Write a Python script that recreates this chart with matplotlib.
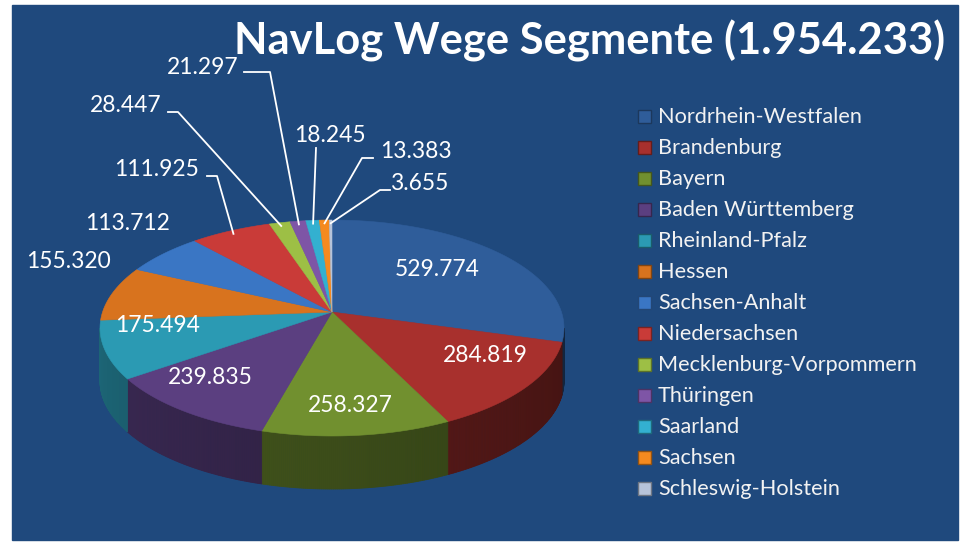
import numpy as np
import matplotlib.pyplot as plt
from matplotlib.patches import Polygon, Rectangle
from matplotlib.colors import to_rgb

# Daten
laender = ["Nordrhein-Westfalen", "Brandenburg", "Bayern", "Baden Württemberg",
           "Rheinland-Pfalz", "Hessen", "Sachsen-Anhalt", "Niedersachsen",
           "Mecklenburg-Vorpommern", "Thüringen", "Saarland", "Sachsen",
           "Schleswig-Holstein"]
werte = [529774, 284819, 258327, 239835, 175494, 155320, 113712, 111925,
         28447, 21297, 18245, 13383, 3655]
beschriftung = ["529.774", "284.819", "258.327", "239.835", "175.494", "155.320",
                "113.712", "111.925", "28.447", "21.297", "18.245", "13.383", "3.655"]
titel = "NavLog Wege Segmente (1.954.233)"

farben = ["#2F5D9A", "#A8302D", "#71902F", "#5B3F80", "#2B9AB3", "#D8731E",
          "#3A76C4", "#C93B38", "#9DBF45", "#7E55A6", "#33B0D0", "#F58A1F",
          "#B7C4DA"]

# Layout (Pixel)
W, H = 961, 543
cx, cy, a, b, tiefe = 332, 328, 232, 108, 53
apex_y = 312
label_pos = [(437, 270), (485, 355), (350, 405), (210, 377), (158, 326),
             (68, 262), (128, 223), (157, 170), (126, 105), (203, 67),
             (330, 135), (416, 152), (420, 183)]
# Fuehrungslinien: Index -> (Start, Knick)
leader = {7: ((207, 176), (217, 176)), 8: ((168, 112), (178, 112)),
          9: ((244, 72), (270, 72)), 10: ((316, 148), (316, 148)),
          11: ((373, 158), (362, 158)), 12: ((390, 190), (380, 190))}

plt.rcParams['font.family'] = ['Lato', 'DejaVu Sans']

fig = plt.figure(figsize=(W / 100, H / 100), dpi=100)
fig.patch.set_facecolor('white')
ax = fig.add_axes([0, 0, 1, 1])
ax.set_xlim(0, W)
ax.set_ylim(H, 0)
ax.axis('off')
ax.add_patch(Rectangle((12, 5), 946, 535, color='#1F497D', zorder=0))
renderer = fig.canvas.get_renderer()


def rim(theta, r=1.0):
    t = np.radians(theta)
    return cx + r * a * np.sin(t), cy - r * b * np.cos(t)


def fit(txt, breite):
    w = txt.get_window_extent(renderer).width
    txt.set_fontsize(txt.get_fontsize() * breite / w)
    return txt.get_fontsize()


anteile = np.array(werte) / sum(werte)
grenzen = np.concatenate([[0], np.cumsum(anteile)]) * 360

# Seitenwand
for i in range(len(werte)):
    lo, hi = max(grenzen[i], 90), min(grenzen[i + 1], 270)
    if hi <= lo:
        continue
    steps = np.linspace(lo, hi, max(2, int((hi - lo) * 2) + 1))
    base = np.array(to_rgb(farben[i]))
    for s0, s1 in zip(steps[:-1], steps[1:]):
        f = 0.40 + 0.26 * (0.5 * (s0 + s1) - 90) / 180
        x0, y0 = rim(s0)
        x1, y1 = rim(s1)
        c = np.clip(base * f, 0, 1)
        ax.add_patch(Polygon([(x0, y0), (x1, y1), (x1, y1 + tiefe), (x0, y0 + tiefe)],
                             closed=True, fc=c, ec=c, lw=0.6, zorder=2))

# Oberseite
for i in range(len(werte)):
    ts = np.linspace(grenzen[i], grenzen[i + 1], max(2, int((grenzen[i + 1] - grenzen[i]) * 2) + 2))
    pts = [(cx, apex_y)] + [rim(t) for t in ts]
    ax.add_patch(Polygon(pts, closed=True, fc=farben[i], ec=farben[i], lw=0.4, zorder=3))

# Werte
txts = []
for i, s in enumerate(beschriftung):
    x, y = label_pos[i]
    txts.append(ax.text(x, y, s, color='white', fontsize=16, ha='center', va='center', zorder=5))
gr = fit(txts[0], 85)
for t in txts:
    t.set_fontsize(gr)

for i, (start, knick) in leader.items():
    mid = 0.5 * (grenzen[i] + grenzen[i + 1])
    ex, ey = rim(mid, 0.97)
    ax.plot([start[0], knick[0], ex], [start[1], knick[1], ey], color='white', lw=1.3, zorder=4)

# Titel
tt = ax.text(945, 41, titel, color='white', fontsize=30, fontweight='bold',
             ha='right', va='center', zorder=5)
fit(tt, 710)

# Legende
leg = []
for i, name in enumerate(laender):
    y = 117 + 31 * i
    c = np.array(to_rgb(farben[i]))
    ax.add_patch(Rectangle((638, y - 7), 13, 13, fc=c, ec=c * 0.6, lw=1, zorder=5))
    leg.append(ax.text(658, y, name, color='#F2F2F2', fontsize=15, ha='left', va='center', zorder=5))
lg = fit(leg[0], 204)
for t in leg:
    t.set_fontsize(lg)

fig.savefig('out.png', dpi=100, facecolor=fig.get_facecolor())
